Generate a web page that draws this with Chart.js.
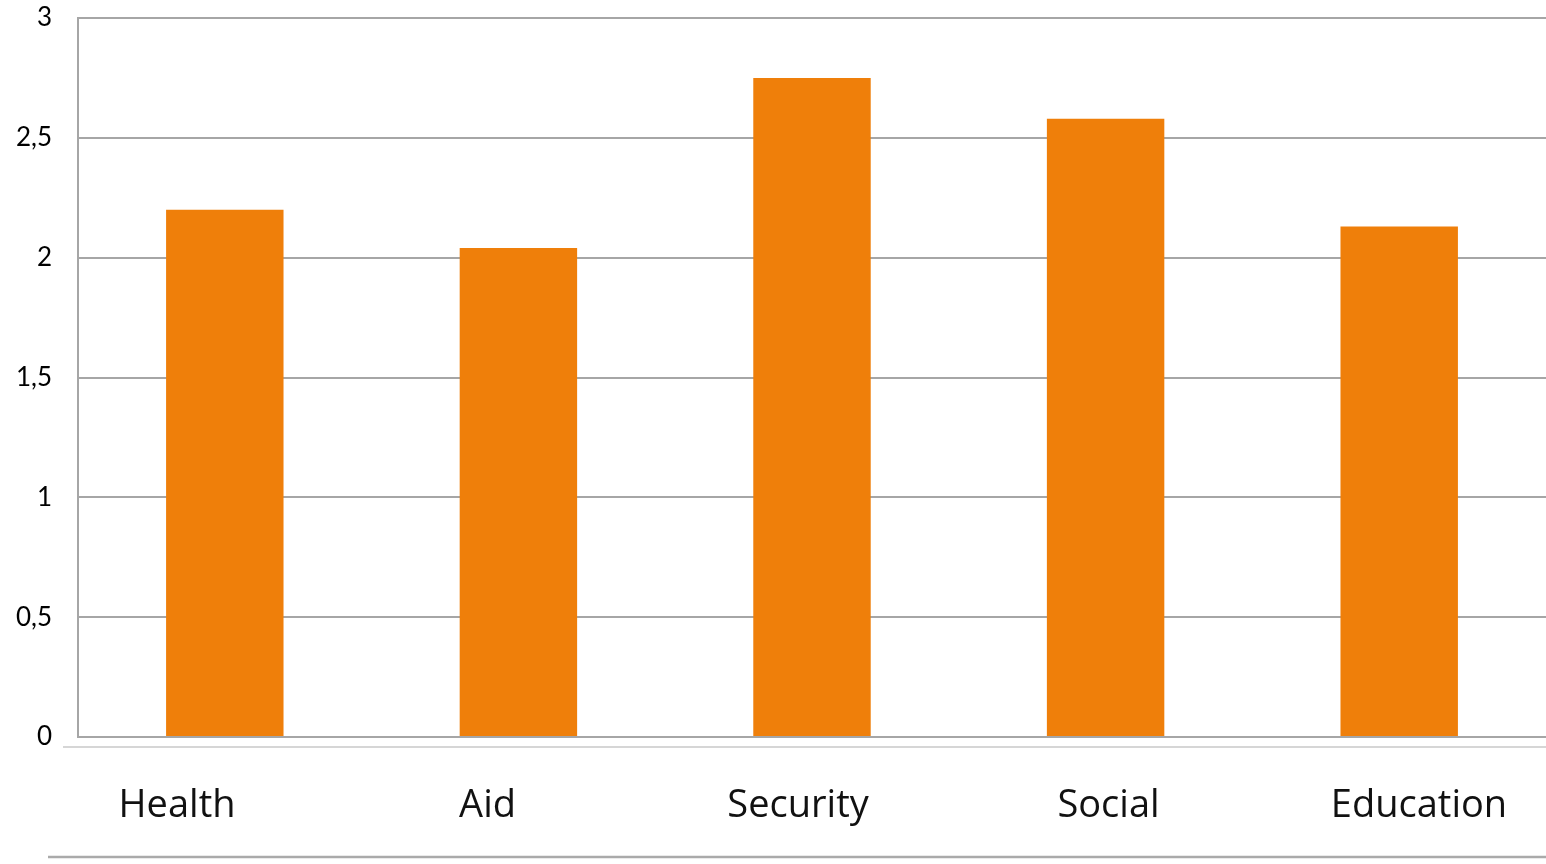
<!DOCTYPE html>
<html>
<head>
<meta charset="utf-8">
<script src="https://cdn.jsdelivr.net/npm/chart.js@4.4.1/dist/chart.umd.min.js"></script>
<style>
  html, body { margin: 0; padding: 0; background: #fff; }
  #wrap { width: 1546px; height: 864px; position: relative; }
</style>
</head>
<body>
<div id="wrap"><canvas id="chart"></canvas></div>
<script>
const categories = ["Health", "Aid", "Security", "Social", "Education"];
const values = [2.2, 2.04, 2.75, 2.58, 2.13];
const yTicks = [0, 0.5, 1, 1.5, 2, 2.5, 3];

/* label row lines (table look under the plot) */
const rowLines = {
  id: "rowLines",
  afterDraw(chart) {
    const { ctx, chartArea } = chart;
    ctx.save();
    ctx.strokeStyle = "#c8c8c8";
    ctx.lineWidth = 1.5;
    ctx.beginPath();
    ctx.moveTo(63, chartArea.bottom + 10);
    ctx.lineTo(chart.width, chartArea.bottom + 10);
    ctx.stroke();
    ctx.strokeStyle = "#aaaaaa";
    ctx.lineWidth = 2.5;
    ctx.beginPath();
    ctx.moveTo(48, chartArea.bottom + 120);
    ctx.lineTo(chart.width, chartArea.bottom + 120);
    ctx.stroke();
    ctx.restore();
  }
};

new Chart(document.getElementById("chart"), {
  type: "bar",
  data: {
    labels: categories,
    datasets: [{
      data: values,
      backgroundColor: "#EF7F0A",
      barPercentage: 0.4,
      categoryPercentage: 1
    }]
  },
  options: {
    responsive: true,
    maintainAspectRatio: false,
    animation: false,
    layout: { padding: { top: 18, left: 0, right: 0, bottom: 0 } },
    plugins: { legend: { display: false }, tooltip: { enabled: false } },
    scales: {
      x: { display: false },
      // label row, spaced a bit wider than the bars
      x2: {
        type: "linear",
        position: "bottom",
        offset: false,
        bounds: "data",
        min: -0.319,
        max: 4.409,
        afterBuildTicks(scale) {
          scale.ticks = categories.map((_, i) => ({ value: i }));
        },
        afterFit(scale) {
          scale.height = 127;
          scale.paddingLeft = 0;
          scale.paddingRight = 0;
        },
        grid: { display: false, drawTicks: false, offset: false },
        border: { display: false },
        ticks: {
          autoSkip: false,
          maxRotation: 0,
          padding: 46,
          color: "#111",
          font: { family: "Open Sans", size: 38 },
          callback: (v) => categories[v]
        }
      },
      y: {
        min: 0,
        max: 3,
        afterBuildTicks(scale) {
          scale.ticks = yTicks.map(v => ({ value: v }));
        },
        afterFit(scale) { scale.width = 78; },
        grid: { color: "#a6a6a6", lineWidth: 2, drawTicks: true, tickLength: 26, tickColor: "rgba(0,0,0,0)" },
        border: { display: true, color: "#a6a6a6", width: 2 },
        ticks: {
          padding: 0,
          color: "#000",
          font: { family: "Lato", size: 26 },
          callback: (v) => String(v).replace(".", ",")
        }
      }
    }
  },
  plugins: [rowLines]
});
</script>
</body>
</html>
